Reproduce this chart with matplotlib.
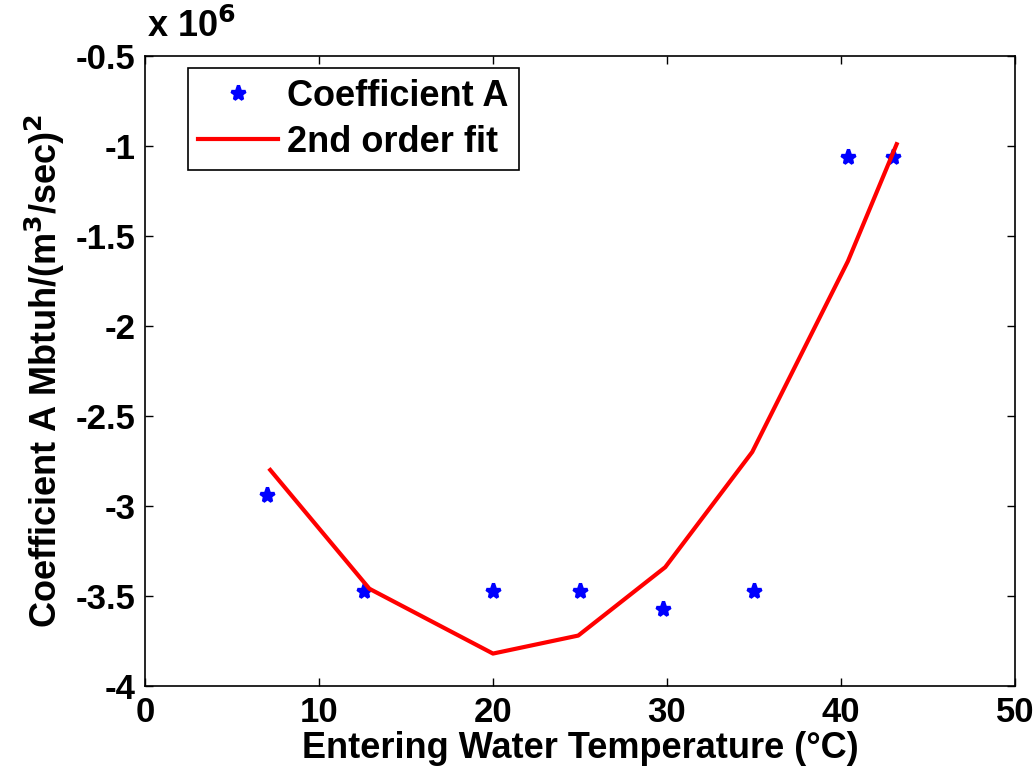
import matplotlib
matplotlib.use("Agg")
import matplotlib.pyplot as plt

temps = [7.0, 12.6, 20.0, 25.0, 29.8, 35.0, 40.4, 43.0]
coef_a = [-2.94, -3.47, -3.47, -3.47, -3.57, -3.47, -1.06, -1.06]
fit_x = [7.2, 12.9, 20.0, 24.9, 29.9, 34.9, 40.4, 43.2]
fit_y = [-2.80, -3.46, -3.82, -3.72, -3.34, -2.70, -1.64, -0.99]
xticks = [0, 10, 20, 30, 40, 50]
yticks = [-4, -3.5, -3, -2.5, -2, -1.5, -1, -0.5]
ytick_labels = ['-4', '-3.5', '-3', '-2.5', '-2', '-1.5', '-1', '-0.5']

plt.rcParams['font.family'] = ['Liberation Sans', 'DejaVu Sans']
plt.rcParams['font.weight'] = 'bold'
plt.rcParams['mathtext.default'] = 'bf'

fig = plt.figure(figsize=(10.34, 7.82), dpi=100)
ax = fig.add_axes([0.1402, 0.1228, 0.8414, 0.8056])

ax.plot(temps, coef_a, linestyle='none', marker='*', color='blue',
        markersize=11, markeredgewidth=2.4, label='Coefficient A')
ax.plot(fit_x, fit_y, color='red', linewidth=3, label='2nd order fit')

ax.set_xlim(0, 50)
ax.set_ylim(-4, -0.5)
ax.set_xticks(xticks)
ax.set_yticks(yticks)
ax.set_yticklabels(ytick_labels)
ax.tick_params(direction='in', top=True, right=True, labelsize=25, length=6,
               width=1, pad=7)
for lab in ax.get_xticklabels() + ax.get_yticklabels():
    lab.set_fontweight('bold')
for s in ax.spines.values():
    s.set_linewidth(1.2)

ax.set_xlabel('Entering Water Temperature (°C)', fontsize=26, fontweight='bold', labelpad=2)
ax.set_ylabel('Coefficient A Mbtuh/(m$^{3}$/sec)$^{2}$', fontsize=26,
              fontweight='bold', labelpad=6)
fig.text(0.142, 0.942, 'x 10$^{6}$', fontsize=26, fontweight='bold', ha='left', va='bottom')

leg = ax.legend(loc='upper left', bbox_to_anchor=(0.049, 0.981), borderaxespad=0,
                fontsize=26, frameon=True, fancybox=False, edgecolor='black',
                framealpha=1, borderpad=0.3, handlelength=2.2, handletextpad=0.25,
                labelspacing=0.3)
leg.get_frame().set_linewidth(1.2)
for t in leg.get_texts():
    t.set_fontweight('bold')

fig.savefig('out.png', dpi=100)
